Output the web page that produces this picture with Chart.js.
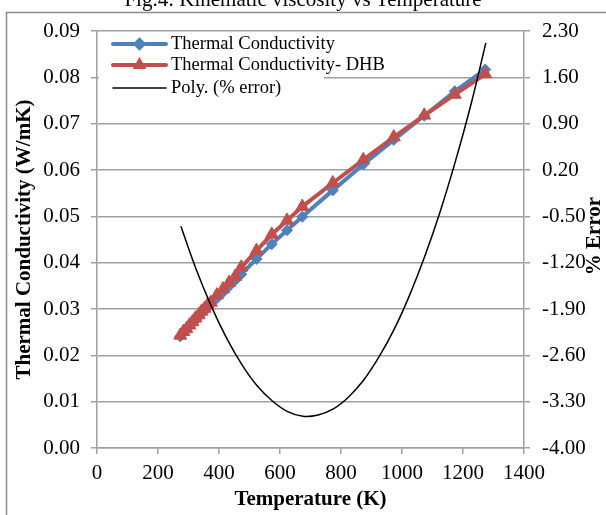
<!DOCTYPE html>
<html>
<head>
<meta charset="utf-8">
<script src="https://cdn.jsdelivr.net/npm/chart.js@4"></script>
<style>
  html, body { margin: 0; padding: 0; background: #fff; }
  #wrap { width: 606px; height: 515px; }
</style>
</head>
<body>
<div id="wrap"><canvas id="grafico" width="606" height="515"></canvas></div>
<script>
// Temperaturas (K)
const temperaturas = [273, 283, 293, 303, 313, 323, 333, 343, 353, 363, 373, 393, 413, 433, 453, 473, 523, 573, 623, 673, 773, 873, 973, 1073, 1173, 1273];
// Conductividad térmica (W/mK)
const conductividad = [0.0241, 0.0248, 0.0255, 0.0262, 0.0269, 0.0276, 0.0283, 0.0290, 0.0297, 0.0304, 0.0310, 0.0323, 0.0336, 0.0349, 0.0362, 0.0375, 0.0408, 0.0440, 0.0470, 0.0499, 0.0556, 0.0612, 0.0665, 0.0717, 0.0770, 0.0817];
const conductividadDHB = [0.0243, 0.0251, 0.0257, 0.0265, 0.0272, 0.0280, 0.0287, 0.0295, 0.0301, 0.0309, 0.0314, 0.0330, 0.0343, 0.0357, 0.0370, 0.0390, 0.0426, 0.0461, 0.0491, 0.0521, 0.0572, 0.0622, 0.0671, 0.0718, 0.0763, 0.0807];
// Línea de tendencia (% error)
const tempPoly = [275, 325, 375, 425, 475, 525, 575, 625, 675, 725, 775, 825, 875, 925, 975, 1025, 1075, 1125, 1175, 1225, 1275];
const errorPoly = [-0.65, -1.30, -1.86, -2.34, -2.74, -3.06, -3.29, -3.45, -3.52, -3.50, -3.41, -3.23, -2.97, -2.62, -2.20, -1.69, -1.10, -0.43, 0.33, 1.17, 2.12];

// Etiquetas de ejes
const ticksIzq = [0, 0.01, 0.02, 0.03, 0.04, 0.05, 0.06, 0.07, 0.08, 0.09];
const ticksDer = [-4.00, -3.30, -2.60, -1.90, -1.20, -0.50, 0.20, 0.90, 1.60, 2.30];
const ticksX = [0, 200, 400, 600, 800, 1000, 1200, 1400];

const AZUL = '#4F81BD';
const ROJO = '#C0504D';
const GRIS = '#A0A0A0';
const FUENTE = '"Liberation Serif", "Times New Roman", serif';

const pares = (xs, ys) => xs.map((x, i) => ({ x: x, y: ys[i] }));

// Textos, marco y leyenda dibujados a mano
const extras = {
  id: 'extras',
  beforeDraw(chart) {
    const ctx = chart.ctx;
    ctx.save();
    ctx.fillStyle = '#fff';
    ctx.fillRect(0, 0, chart.width, chart.height);
    ctx.strokeStyle = '#8a8a8a';
    ctx.lineWidth = 1.5;
    ctx.strokeRect(6.5, 12.5, 700, 600);
    ctx.fillStyle = '#000';
    ctx.font = '21px ' + FUENTE;
    ctx.textAlign = 'center';
    ctx.textBaseline = 'alphabetic';
    ctx.fillText('Fig.4: Kinematic viscosity vs Temperature', 303, 6);
    ctx.restore();
  },
  afterDraw(chart) {
    const ctx = chart.ctx;
    const area = chart.chartArea;
    ctx.save();
    ctx.fillStyle = '#000';
    ctx.font = 'bold 21px ' + FUENTE;
    ctx.textAlign = 'center';
    ctx.textBaseline = 'middle';
    ctx.fillText('Temperature (K)', (area.left + area.right) / 2, 500);

    ctx.save();
    ctx.translate(25, (area.top + area.bottom) / 2);
    ctx.rotate(-Math.PI / 2);
    ctx.fillText('Thermal Conductivity (W/mK)', 0, 0);
    ctx.restore();

    ctx.save();
    ctx.translate(595, 236);
    ctx.rotate(-Math.PI / 2);
    ctx.fillText('% Error', 0, 0);
    ctx.restore();

    // Leyenda
    ctx.fillStyle = '#fff';
    ctx.fillRect(area.left + 2, area.top + 2, 225, 72);
    const filas = [
      { texto: 'Thermal Conductivity', color: AZUL, marca: 'rectRot', y: 44, ancho: 4 },
      { texto: 'Thermal Conductivity- DHB', color: ROJO, marca: 'triangle', y: 65, ancho: 4 },
      { texto: 'Poly. (% error)', color: '#000', marca: null, y: 88, ancho: 1.5 }
    ];
    filas.forEach(f => {
      ctx.strokeStyle = f.color;
      ctx.lineWidth = f.ancho;
      ctx.lineCap = 'round';
      ctx.beginPath();
      ctx.moveTo(113, f.y);
      ctx.lineTo(166, f.y);
      ctx.stroke();
      if (f.marca) {
        Chart.helpers.drawPoint(ctx, { pointStyle: f.marca, radius: 4, borderWidth: 1 }, 139.5, f.y);
        ctx.fillStyle = f.color;
        ctx.fill();
      }
      ctx.fillStyle = '#000';
      ctx.font = '18.5px ' + FUENTE;
      ctx.textAlign = 'left';
      ctx.fillText(f.texto, 171, f.y);
    });
    ctx.restore();
  }
};

const ctx = document.getElementById('grafico').getContext('2d');
new Chart(ctx, {
  type: 'line',
  data: {
    datasets: [
      {
        label: 'Poly. (% error)',
        data: pares(tempPoly, errorPoly),
        yAxisID: 'y2',
        borderColor: '#000',
        borderWidth: 1.5,
        pointRadius: 0,
        tension: 0.4,
        fill: false,
        order: 1
      },
      {
        label: 'Thermal Conductivity- DHB',
        data: pares(temperaturas, conductividadDHB),
        yAxisID: 'y',
        borderColor: ROJO,
        backgroundColor: ROJO,
        borderWidth: 4,
        pointStyle: 'triangle',
        pointRadius: 7.5,
        pointBorderWidth: 1,
        tension: 0,
        fill: false,
        order: 2
      },
      {
        label: 'Thermal Conductivity',
        data: pares(temperaturas, conductividad),
        yAxisID: 'y',
        borderColor: AZUL,
        backgroundColor: AZUL,
        borderWidth: 4,
        pointStyle: 'rectRot',
        pointRadius: 5.5,
        pointBorderWidth: 1,
        tension: 0,
        fill: false,
        order: 3
      }
    ]
  },
  options: {
    responsive: false,
    animation: false,
    devicePixelRatio: 1,
    layout: { padding: { top: 31, left: 0, right: 0, bottom: 0 } },
    plugins: {
      legend: { display: false },
      title: { display: false },
      tooltip: { enabled: false }
    },
    scales: {
      x: {
        type: 'linear',
        min: 0,
        max: 1400,
        afterBuildTicks: s => { s.ticks = ticksX.map(v => ({ value: v })); },
        afterFit: s => { s.height = 67; },
        grid: { drawOnChartArea: false, drawTicks: true, tickLength: 6, color: GRIS, lineWidth: 1.5 },
        border: { color: GRIS, width: 1.5 },
        ticks: { color: '#000', font: { family: FUENTE, size: 21 }, padding: 7, maxRotation: 0, callback: v => String(v) }
      },
      y: {
        position: 'left',
        min: 0,
        max: 0.09,
        afterBuildTicks: s => { s.ticks = ticksIzq.map(v => ({ value: v })); },
        afterFit: s => { s.width = 97; },
        grid: { color: GRIS, lineWidth: 1.5, tickLength: 6 },
        border: { color: GRIS, width: 1.5 },
        ticks: { color: '#000', font: { family: FUENTE, size: 21 }, padding: 11, callback: v => v.toFixed(2) }
      },
      y2: {
        position: 'right',
        min: -4,
        max: 2.3,
        afterBuildTicks: s => { s.ticks = ticksDer.map(v => ({ value: v })); },
        afterFit: s => { s.width = 82; },
        grid: { drawOnChartArea: false, color: GRIS, lineWidth: 1.5, tickLength: 6 },
        border: { color: GRIS, width: 1.5 },
        ticks: { color: '#000', font: { family: FUENTE, size: 21 }, padding: 12, callback: v => v.toFixed(2) }
      }
    }
  },
  plugins: [extras]
});
</script>
</body>
</html>
